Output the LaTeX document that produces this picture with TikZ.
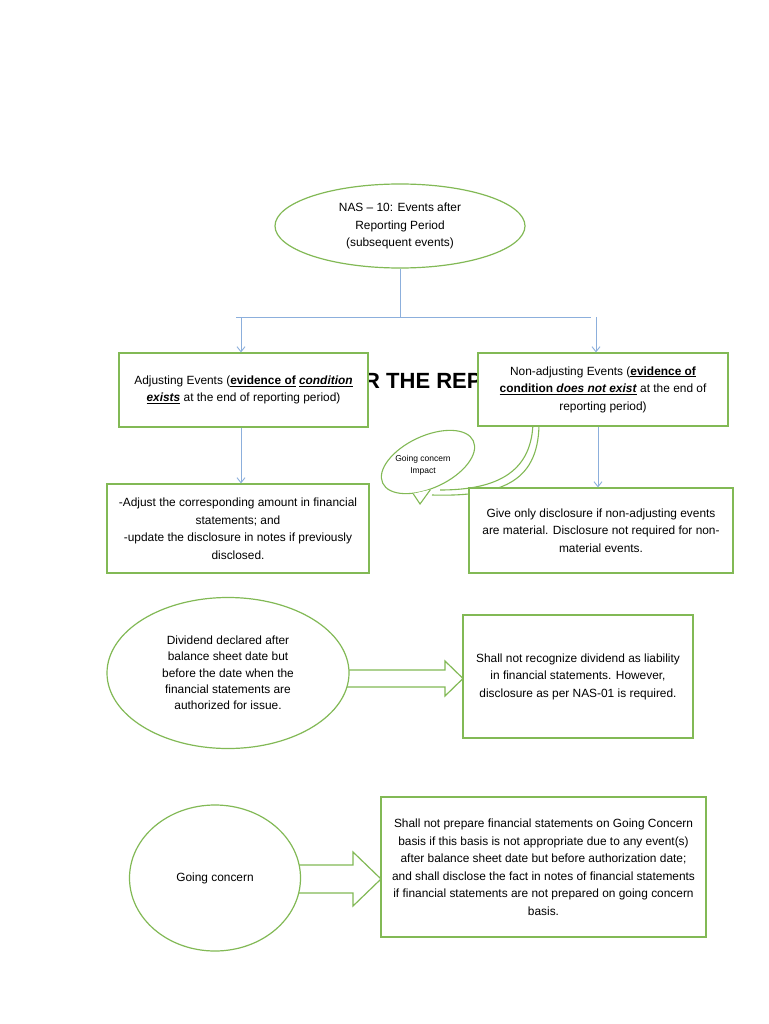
\documentclass[tikz,border=0pt]{standalone}
\usepackage{fontspec}
\setmainfont{Liberation Sans}
\usetikzlibrary{arrows.meta,shapes.geometric,calc}
\definecolor{gr}{RGB}{130,185,85}
\definecolor{bl}{RGB}{140,175,220}
\begin{document}
\begin{tikzpicture}[x=1pt,y=-1pt,
  txt/.style={font=\fontsize{11.9}{17.5}\selectfont, align=center},
  gbox/.style={draw=gr, line width=1.2pt, fill=white, inner sep=0pt, txt},
  gell/.style={ellipse, draw=gr, line width=1.2pt, fill=white, inner sep=0pt, txt},
  conn/.style={draw=bl, line width=0.9pt},
  arr/.style={conn, -{Straight Barb[length=5pt,width=8pt]}},
  blockarrow/.style={draw=gr, line width=1.2pt, fill=white, line join=miter}]
\useasboundingbox[fill=white] (0,0) rectangle (768,1024);

% partly hidden title
\node[font=\bfseries\fontsize{22}{26}\selectfont, anchor=base west, inner sep=0pt] (ttl) at (364,388.5) {R THE REP};

% top ellipse
\node[gell, minimum width=250pt, minimum height=84pt] (nas) at (400,226) {NAS – 10: Events after\\Reporting Period\\ (subsequent events)};

% blue connectors
\coordinate (brL) at (236,317);
\coordinate (brR) at (591,317);
\coordinate (a1) at (241,317);
\coordinate (a2) at (596,317);
\coordinate (a3) at (598,450);
\draw[conn] (nas.south) -- (nas.south |- brL);
\draw[conn] (brL) -- (brR);

% callout curves
\draw[gr, line width=1.1pt] (533,420) .. controls (533,470) and (500,490) .. (440,490);
\draw[gr, line width=1.1pt] (539,420) .. controls (540,480) and (505,497) .. (432,495);

% callout ellipse
\node[ellipse, draw=gr, line width=1.1pt, fill=white, minimum width=100pt, minimum height=52pt, rotate=25] (gce) at (428,462) {};
\coordinate (tailtip) at (420,504);
\fill[white] (gce.220) -- (tailtip) -- (gce.250) -- cycle;
\draw[gr, line width=1.1pt] (gce.220) -- (tailtip) -- (gce.250);
\node[font=\fontsize{8.5}{12}\selectfont, align=center, inner sep=0pt] (gct) at (423,465) {Going concern\\Impact};

% boxes
\node[gbox, minimum width=249pt, minimum height=74pt] (adj) at (243.5,390) {Adjusting Events (\underline{\textbf{evidence of}} \underline{\textbf{\textit{condition}}}\\\underline{\textbf{\textit{exists}}} at the end of reporting period)};
\node[gbox, minimum width=250pt, minimum height=73pt] (nonadj) at (603,389.5) {Non-adjusting Events (\underline{\textbf{evidence of}}\\\underline{\textbf{condition \textit{does not exist}}} at the end of\\reporting period)};

\draw[arr] (a1) -- (a1 |- adj.north);
\draw[arr] (a2) -- (a2 |- nonadj.north);

\node[gbox, minimum width=262pt, minimum height=89pt] (adjres) at (238,528.5) {-Adjust the corresponding amount in financial\\statements; and\\-update the disclosure in notes if previously\\disclosed.};
\node[gbox, minimum width=264pt, minimum height=85pt] (nonres) at (601,530.5) {Give only disclosure if non-adjusting events\\are material. Disclosure not required for non-\\material events.};

\draw[arr] (adj.south -| a1) -- (adjres.north -| a1);
\draw[arr] (nonadj.south -| a3) -- (nonres.north -| a3);

% dividend
\draw[blockarrow] (340,670) -- (445,670) -- (445,661) -- (463,678.5) -- (445,696) -- (445,687) -- (340,687) -- cycle;
\node[gell, minimum width=242pt, minimum height=151pt, font=\fontsize{11.9}{16.3}\selectfont] (div) at (228,673) {Dividend declared after\\balance sheet date but\\before the date when the\\financial statements are\\ authorized for issue.};
\node[gbox, minimum width=230pt, minimum height=123pt] (divres) at (578,676.5) {Shall not recognize dividend as liability\\in financial statements. However,\\disclosure as per NAS-01 is required.};

% going concern
\draw[blockarrow] (290,865) -- (353,865) -- (353,852) -- (381,879) -- (353,906) -- (353,893) -- (290,893) -- cycle;
\node[gell, minimum width=171pt, minimum height=146pt] (gc) at (215,878) {Going concern};
\node[gbox, minimum width=325pt, minimum height=140pt] (gcres) at (543.5,867) {Shall not prepare financial statements on Going Concern\\basis if this basis is not appropriate due to any event(s)\\after balance sheet date but before authorization date;\\and shall disclose the fact in notes of financial statements\\if financial statements are not prepared on going concern\\basis.};
\end{tikzpicture}
\end{document}
